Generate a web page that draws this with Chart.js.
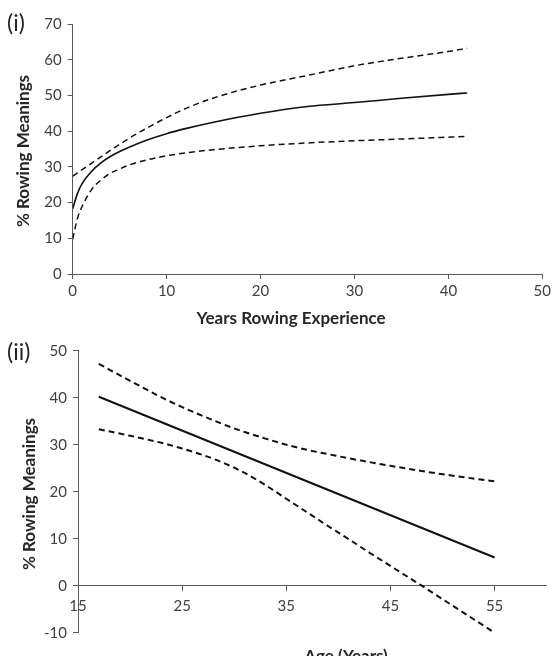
<!DOCTYPE html>
<html>
<head>
<meta charset="utf-8">
<script src="https://cdn.jsdelivr.net/npm/chart.js@4.4.1/dist/chart.umd.min.js"></script>
<style>
body{margin:0;background:#fff;width:554px;height:656px;overflow:hidden;position:relative}
canvas{position:absolute;left:0}
#c1{top:0}
#c2{top:335px}
</style>
</head>
<body>
<canvas id="c1" width="554" height="335"></canvas>
<canvas id="c2" width="554" height="321"></canvas>
<script>
// (i) years rowing experience
var expYears = [0,0.5,1,2,3,4,5,6,8,10,12,15,20,25,30,35,40,42];
var expFit   = [18.3,22.5,25.3,28.7,31.1,32.9,34.3,35.5,37.6,39.3,40.7,42.5,45.0,46.9,48.0,49.2,50.3,50.7];
var expUpper = [27.4,28.3,29.2,31.0,32.8,34.6,36.3,38.0,41.0,43.8,46.3,49.3,52.9,55.6,58.3,60.4,62.3,63.2];
var expLower = [9.8,15.5,18.9,23.6,26.3,28.2,29.4,30.5,32.0,33.1,33.9,34.8,35.9,36.7,37.3,37.8,38.3,38.5];
var expTicks = [0,10,20,30,40,50];
var pctTicks1 = [0,10,20,30,40,50,60,70];

// (ii) age
var ageFitX = [17,55];
var ageFit  = [40.2,6.0];
var ageX     = [17,20,23,25,27,29,31,33,35,37,39,41,43,45,48,51,55];
var ageUpper = [47.2,43.6,40.1,38.0,36.1,34.3,32.7,31.3,30.0,28.9,28.0,27.1,26.3,25.5,24.4,23.4,22.2];
var ageLower = [33.3,31.9,30.4,29.2,27.8,26.1,24.0,21.4,18.5,15.6,12.7,9.9,7.0,4.2,0,-4.3,-10];
var ageTicks = [15,25,35,45,55];
var pctTicks2 = [-10,0,10,20,30,40,50];

var FONT = "Lato, 'DejaVu Sans', sans-serif";
var AXIS = '#595959';

function pts(xs, ys){
  var out = [];
  for (var i = 0; i < xs.length; i++) out.push({x: xs[i], y: ys[i]});
  return out;
}

function setTicks(list){
  return function(scale){ scale.ticks = list.map(function(v){ return {value: v}; }); };
}

// draws the panel tag and axis titles
var labelsPlugin = {
  id: 'labels',
  afterDraw: function(chart, args, opts){
    var ctx = chart.ctx;
    ctx.save();
    ctx.fillStyle = '#262626';
    ctx.textBaseline = 'alphabetic';
    ctx.font = '23px ' + FONT;
    ctx.textAlign = 'left';
    ctx.fillText(opts.tag, 7, opts.tagY);
    ctx.font = 'bold 17px ' + FONT;
    ctx.textAlign = 'center';
    ctx.fillText(opts.xTitle, opts.xTitleX, opts.xTitleY);
    ctx.translate(opts.yTitleX, opts.yTitleY);
    ctx.rotate(-Math.PI/2);
    ctx.textBaseline = 'middle';
    ctx.fillText('% Rowing Meanings', 0, 0);
    ctx.restore();
  }
};

function lineSet(data, dashed, width){
  return {
    data: data,
    borderColor: '#111',
    borderWidth: width,
    borderDash: dashed ? [6,4] : [],
    pointRadius: 0,
    fill: false,
    cubicInterpolationMode: 'monotone'
  };
}

function axisGrid(){
  return {drawOnChartArea: false, drawTicks: true, tickLength: 5, color: AXIS};
}

new Chart(document.getElementById('c1'), {
  type: 'line',
  data: {
    datasets: [
      lineSet(pts(expYears, expUpper), true, 1.5),
      lineSet(pts(expYears, expFit), false, 1.6),
      lineSet(pts(expYears, expLower), true, 1.5)
    ]
  },
  options: {
    responsive: false,
    animation: false,
    layout: {padding: {top: 24, right: 7.3, left: 0, bottom: 0}},
    plugins: {
      legend: {display: false},
      tooltip: {enabled: false},
      labels: {tag: '(i)', tagY: 31, xTitle: 'Years Rowing Experience', xTitleX: 291, xTitleY: 323.5, yTitleX: 24, yTitleY: 151}
    },
    scales: {
      x: {
        type: 'linear', min: 0, max: 50,
        afterBuildTicks: setTicks(expTicks),
        afterFit: function(s){ s.height = 61; },
        grid: axisGrid(),
        border: {display: true, color: AXIS},
        ticks: {color: '#404040', font: {family: FONT, size: 15}, padding: 3, maxRotation: 0}
      },
      y: {
        min: 0, max: 70,
        afterBuildTicks: setTicks(pctTicks1),
        afterFit: function(s){ s.width = 72.7; },
        grid: axisGrid(),
        border: {display: true, color: AXIS},
        ticks: {color: '#404040', font: {family: FONT, size: 15}, padding: 6}
      }
    }
  },
  plugins: [labelsPlugin]
});

new Chart(document.getElementById('c2'), {
  type: 'line',
  data: {
    datasets: [
      lineSet(pts(ageX, ageUpper), true, 2),
      lineSet(pts(ageFitX, ageFit), false, 2),
      lineSet(pts(ageX, ageLower), true, 2)
    ]
  },
  options: {
    responsive: false,
    animation: false,
    layout: {padding: {top: 15.7, right: 7.3, left: 0, bottom: 23.3}},
    plugins: {
      legend: {display: false},
      tooltip: {enabled: false},
      labels: {tag: '(ii)', tagY: 25, xTitle: 'Age (Years)', xTitleX: 346, xTitleY: 326.5, yTitleX: 30, yTitleY: 159}
    },
    scales: {
      x: {
        type: 'linear', min: 15, max: 60,
        position: {y: 0},
        afterBuildTicks: setTicks(ageTicks),
        grid: axisGrid(),
        border: {display: true, color: AXIS},
        ticks: {color: '#404040', font: {family: FONT, size: 15}, padding: 6, maxRotation: 0}
      },
      y: {
        min: -10, max: 50,
        afterBuildTicks: setTicks(pctTicks2),
        afterFit: function(s){ s.width = 78; },
        grid: axisGrid(),
        border: {display: true, color: AXIS},
        ticks: {color: '#404040', font: {family: FONT, size: 15}, padding: 6}
      }
    }
  },
  plugins: [labelsPlugin]
});
</script>
</body>
</html>
